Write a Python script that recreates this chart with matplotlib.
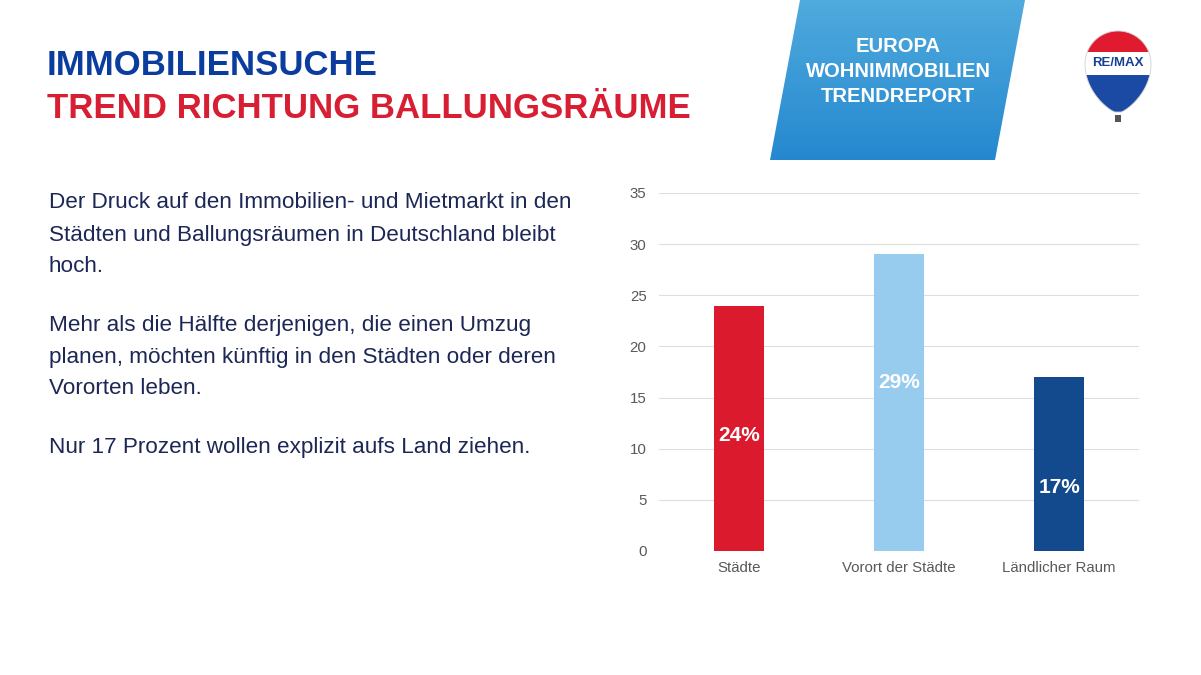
import numpy as np
import matplotlib.pyplot as plt
from matplotlib.patches import Polygon, Rectangle
from matplotlib.colors import LinearSegmentedColormap

plt.rcParams['font.family'] = ['Liberation Sans', 'DejaVu Sans']

# data
categories = ['Städte', 'Vorort der Städte', 'Ländlicher Raum']
values = [24, 29, 17]
value_labels = ['24%', '29%', '17%']
label_heights = [11.3, 16.5, 6.2]
bar_colors = ['#dc1a2e', '#98ccee', '#134a8e']
yticks = [0, 5, 10, 15, 20, 25, 30, 35]

title1 = 'IMMOBILIENSUCHE'
title2 = 'TREND RICHTUNG BALLUNGSRÄUME'
paragraphs = [
    ['Der Druck auf den Immobilien- und Mietmarkt in den',
     'Städten und Ballungsräumen in Deutschland bleibt',
     'hoch.'],
    ['Mehr als die Hälfte derjenigen, die einen Umzug',
     'planen, möchten künftig in den Städten oder deren',
     'Vororten leben.'],
    ['Nur 17 Prozent wollen explizit aufs Land ziehen.'],
]
banner_lines = ['EUROPA', 'WOHNIMMOBILIEN', 'TRENDREPORT']

W, H = 1201, 675
fig = plt.figure(figsize=(W / 100, H / 100), dpi=100)
fig.patch.set_facecolor('white')

# background layer in pixel coordinates
bg = fig.add_axes([0, 0, 1, 1])
bg.axis('off')

# titles
bg.text(47, 75, title1, color='#0b3d9e', fontsize=25, fontweight='bold', va='baseline')
bg.text(47, 118, title2, color='#d81e33', fontsize=25, fontweight='bold', va='baseline')

# body text
navy = '#1c2755'
y = 203
for para in paragraphs:
    for line in para:
        bg.text(49, y, line, color=navy, fontsize=16.2, va='center')
        y += 32
    y += 26

# banner parallelogram with gradient
banner = Polygon([(800, 0), (1025, 0), (995, 160), (770, 160)], closed=True,
                 facecolor='none', edgecolor='none')
bg.add_patch(banner)
grad = np.linspace(0, 1, 100).reshape(-1, 1)
cmap = LinearSegmentedColormap.from_list('banner', ['#4faadd', '#2588cf'])
im = bg.imshow(grad, cmap=cmap, extent=(770, 1025, 160, 0), aspect='auto', zorder=1)
im.set_clip_path(banner)
for i, line in enumerate(banner_lines):
    bg.text(898, 47 + i * 24.5, line, color='white', fontsize=14.5, fontweight='bold',
            ha='center', va='center', zorder=2)

# RE/MAX balloon
cx, cy, r = 1118, 64, 33
ang = np.linspace(0, np.pi, 100)
upper = [(cx + r * np.cos(a), cy - r * np.sin(a)) for a in ang]
tt = np.linspace(0, 1, 80)
left = [(cx - (3 + 30 * (1 - t ** 2) ** 0.8), cy + 48 * t) for t in tt]
right = [(cx + (3 + 30 * (1 - t ** 2) ** 0.8), cy + 48 * t) for t in tt[::-1]]
balloon = Polygon(upper + left + right, closed=True,
                  facecolor='none', edgecolor='#d0d0d0', lw=0.6, zorder=3)
bg.add_patch(balloon)
for y0, y1, c in [(25, 52, '#e01b2f'), (52, 75, 'white'), (75, 120, '#1a4aa3')]:
    rect = Rectangle((cx - r - 2, y0), 2 * r + 4, y1 - y0, facecolor=c, edgecolor='none', zorder=2)
    bg.add_patch(rect)
    rect.set_clip_path(balloon)
bg.add_patch(Rectangle((cx - 3, 115), 6, 7, facecolor='#555555', edgecolor='none', zorder=3))
bg.text(cx, 63, 'RE/MAX', color='#163f94', fontsize=9.5, fontweight='bold',
        ha='center', va='center', zorder=4)

bg.set_xlim(0, W)
bg.set_ylim(H, 0)

# chart
ax = fig.add_axes([659 / W, 1 - 551 / H, 480 / W, 358 / H])
x = np.arange(len(categories))
ax.bar(x, values, width=0.31, color=bar_colors, zorder=2)
for xi, h, lab in zip(x, label_heights, value_labels):
    ax.text(xi, h, lab, color='white', fontsize=15, fontweight='bold',
            ha='center', va='center', zorder=3)
ax.set_xlim(-0.5, 2.5)
ax.set_ylim(0, 35)
ax.set_yticks(yticks)
ax.set_xticks(x)
ax.set_xticklabels(categories)
ax.grid(axis='y', color='#dedede', lw=0.8, zorder=0)
for s in ax.spines.values():
    s.set_visible(False)
ax.tick_params(length=0, colors='#595959', labelsize=10.8)
ax.tick_params(axis='y', pad=9)
ax.tick_params(axis='x', pad=7)

fig.savefig('out.png', dpi=100)
